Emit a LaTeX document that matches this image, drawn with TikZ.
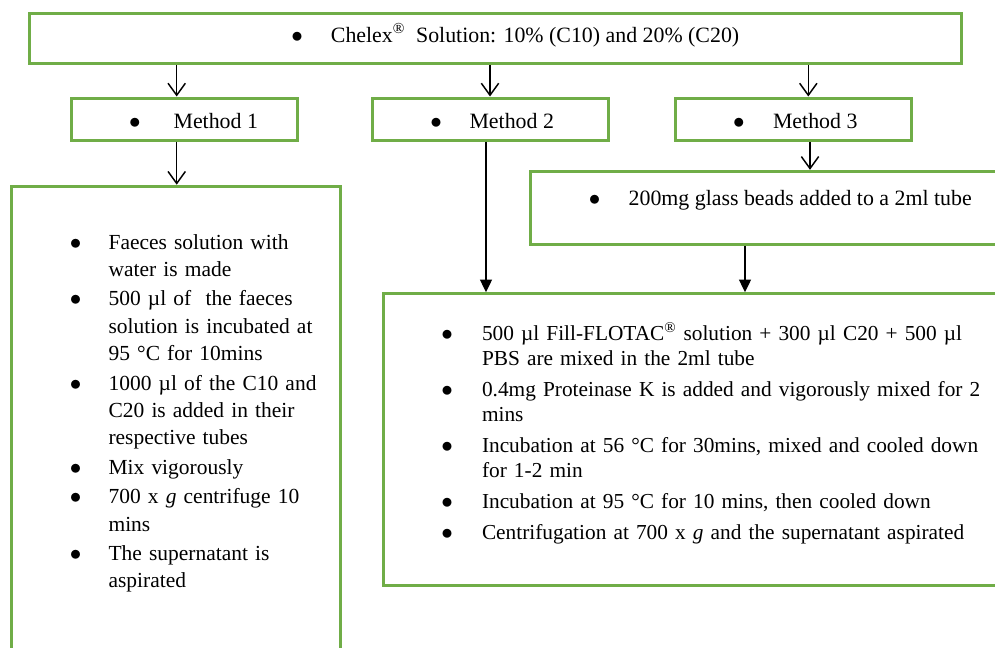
\documentclass[tikz,border=0pt]{standalone}
\usepackage{fontspec}
\setmainfont{Liberation Serif}
\usepackage{enumitem}
\usetikzlibrary{arrows.meta,fit}
\definecolor{boxgreen}{RGB}{112,173,71}

\tikzset{
  box/.style={draw=boxgreen, line width=2.25pt, inner sep=0pt, rectangle},
  txt/.style={anchor=base west, inner sep=0pt, font=\fontsize{16.4}{20.5}\selectfont},
  open/.style={-{Straight Barb[width=13pt,length=9pt]}, line width=1.1pt},
  full/.style={-{Triangle[width=9pt,length=9.5pt]}, line width=1.1pt},
}
\newcommand{\bulletdot}{$\bullet$}
\newcommand{\bul}[1]{\makebox[#1][l]{\bulletdot}}

\begin{document}
\begin{tikzpicture}[x=0.75pt,y=-0.75pt]
\useasboundingbox (0,0) rectangle (995,647);

% boxes
\node[box, fit={(29,13.5) (961,63.7)}] (chelex) {};
\node[box, fit={(71.3,98) (297.3,140)}] (m1) {};
\node[box, fit={(372.2,98) (608,140)}] (m2) {};
\node[box, fit={(675.3,98) (911.3,140.5)}] (m3) {};
\node[box, fit={(11.3,186.2) (340.3,720)}] (steps1) {};
\node[box, fit={(530.7,171.3) (1100,244)}] (beads) {};
\node[box, fit={(383.3,293.7) (1100,585)}] (steps23) {};

% texts
\node[txt] (t0) at (291.2,42.3) {\bul{29.6pt}Chelex\textsuperscript{\textregistered}\ \ Solution: 10\% (C10) and 20\% (C20)};
\node[txt] (t1) at (128.9,128) {\bul{33.3pt}Method 1};
\node[txt] (t2) at (430.2,128) {\bul{29.3pt}Method 2};
\node[txt] (t3) at (732.9,128) {\bul{29.9pt}Method 3};
\node[txt] (t4) at (588.5,205) {\bul{29.9pt}200mg glass beads added to a 2ml tube};

\node[txt, text width=500pt, align=left, font=\fontsize{16.1}{20.5}\selectfont] (l1) at (69.5,221.8) {%
\begin{itemize}[nosep, itemsep=1.6pt, leftmargin=29.1pt, labelwidth=29.1pt, labelsep=0pt, labelindent=0pt, align=left, label=\bulletdot]
\item Faeces solution with\\water is made
\item 500 µl of\ \ the faeces\\solution is incubated at\\95 °C for 10mins
\item 1000 µl of the C10 and\\C20 is added in their\\respective tubes
\item Mix vigorously
\item 700 x \textit{g} centrifuge 10\\mins
\item The supernatant is\\aspirated
\end{itemize}};

\node[txt, text width=700pt, align=left, font=\fontsize{16}{18.75}\selectfont] (l2) at (441.2,315.8) {%
\begin{itemize}[nosep, itemsep=4.4pt, leftmargin=30.4pt, labelwidth=30.4pt, labelsep=0pt, labelindent=0pt, align=left, label=\bulletdot]
\item 500 µl Fill-FLOTAC\textsuperscript{\textregistered} solution + 300 µl C20 + 500 µl\\PBS are mixed in the 2ml tube
\item 0.4mg Proteinase K is added and vigorously mixed for 2\\mins
\item Incubation at 56 °C for 30mins, mixed and cooled down\\for 1-2 min
\item Incubation at 95 °C for 10 mins, then cooled down
\item Centrifugation at 700 x \textit{g} and the supernatant aspirated
\end{itemize}};

% arrows
\coordinate (a1) at (176.7,0);
\coordinate (a2) at (490,0);
\coordinate (a3) at (808.3,0);
\coordinate (a4) at (486,0);
\coordinate (a5) at (810,0);
\coordinate (a6) at (745,0);
\draw[open] (chelex.south -| a1) -- (m1.north -| a1);
\draw[open] (chelex.south -| a2) -- (m2.north -| a2);
\draw[open] (chelex.south -| a3) -- (m3.north -| a3);
\draw[open] (m1.south -| a1) -- (steps1.north -| a1);
\draw[full] (m2.south -| a4) -- (steps23.north -| a4);
\draw[open] (m3.south -| a5) -- (beads.north -| a5);
\draw[full] (beads.south -| a6) -- (steps23.north -| a6);
\end{tikzpicture}
\end{document}
